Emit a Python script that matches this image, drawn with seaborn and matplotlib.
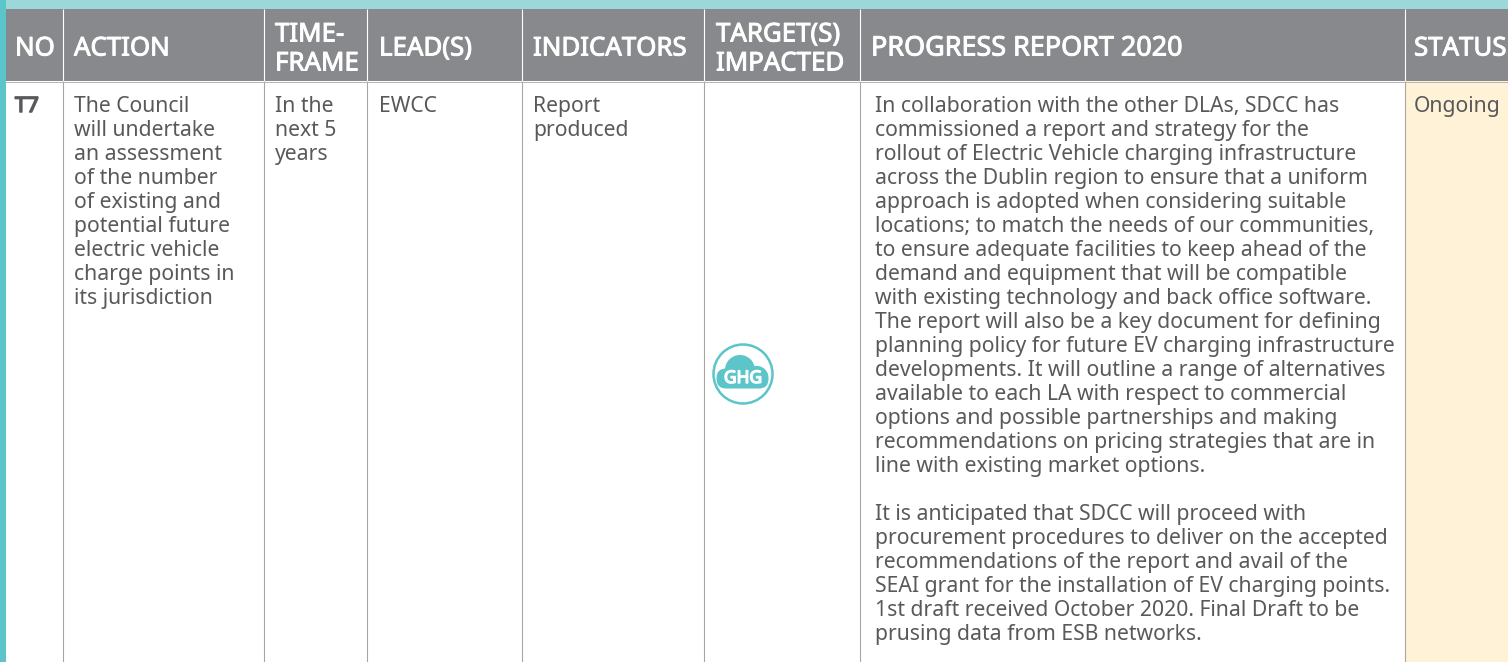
import matplotlib
matplotlib.use("Agg")
import matplotlib.pyplot as plt
import matplotlib.patheffects as pe
from matplotlib.patches import Circle, FancyBboxPatch, Rectangle
import seaborn as sns

headers = ["NO", "ACTION", "TIME-\nFRAME", "LEAD(S)", "INDICATORS", "TARGET(S)\nIMPACTED", "PROGRESS REPORT 2020", "STATUS"]
no_col = ["T7"]
action_col = ["The Council", "will undertake", "an assessment", "of the number", "of existing and",
              "potential future", "electric vehicle", "charge points in", "its jurisdiction"]
timeframe_col = ["In the", "next 5", "years"]
lead_col = ["EWCC"]
indicators_col = ["Report", "produced"]
target_icon = "GHG"
progress_col = [
    "In collaboration with the other DLAs, SDCC has",
    "commissioned a report and strategy for the",
    "rollout of Electric Vehicle charging infrastructure",
    "across the Dublin region to ensure that a uniform",
    "approach is adopted when considering suitable",
    "locations; to match the needs of our communities,",
    "to ensure adequate facilities to keep ahead of the",
    "demand and equipment that will be compatible",
    "with existing technology and back office software.",
    "The report will also be a key document for defining",
    "planning policy for future EV charging infrastructure",
    "developments. It will outline a range of alternatives",
    "available to each LA with respect to commercial",
    "options and possible partnerships and making",
    "recommendations on pricing strategies that are in",
    "line with existing market options.",
    "",
    "It is anticipated that SDCC will proceed with",
    "procurement procedures to deliver on the accepted",
    "recommendations of the report and avail of the",
    "SEAI grant for the installation of EV charging points.",
    "1st draft received October 2020. Final Draft to be",
    "prusing data from ESB networks.",
]
status_col = ["Ongoing"]

col_edges = [63, 263.5, 366.5, 521.5, 704, 859.5, 1405]
header_x = [15, 74, 275, 379, 533, 716, 871, 1414]
body_x = [15, 74, 275, 379, 533, 875, 1414]

TEAL, PALE, GREY, RULE, CREAM, INK = "#5bc5c9", "#9cd8da", "#88898c", "#aba5a2", "#fff2d7", "#58595b"

sns.set_theme(style="white")
plt.rcParams["font.family"] = ["Noto Sans", "DejaVu Sans"]
fig = plt.figure(figsize=(15.08, 6.62), dpi=100)
ax = fig.add_axes([0, 0, 1, 1])
ax.set_xlim(0, 1508)
ax.set_ylim(662, 0)
ax.axis("off")
sns.despine(ax=ax, left=True, bottom=True)

W, H = 1508, 662
ax.add_patch(Rectangle((0, 0), 6, H, fc=TEAL, lw=0))
ax.add_patch(Rectangle((6, 0), W, 9, fc=PALE, lw=0))
ax.add_patch(Rectangle((6, 9), W, 72, fc=GREY, lw=0))
ax.add_patch(Rectangle((col_edges[-1], 81), W, H, fc=CREAM, lw=0))
for x in col_edges:
    ax.plot([x, x], [9, 81], color="white", lw=0.8, solid_capstyle="butt")
    ax.plot([x, x], [81, H], color=RULE, lw=0.8, solid_capstyle="butt")
ax.plot([6, W], [81.5, 81.5], color="#b5b5b7", lw=0.7)

semi = [pe.withStroke(linewidth=0.7, foreground="white")]
for x, label in zip(header_x, headers):
    lines = label.split("\n")
    ys = [55.5] if len(lines) == 1 else [41.5, 70.5]
    size = 19.4 if label.startswith("PROGRESS") else 18.6
    for y, s in zip(ys, lines):
        ax.text(x, y, s, color="white", fontsize=size, va="baseline", ha="left", path_effects=semi)

LEAD = 24
BASE = 112
def column(x, lines, **kw):
    for i, s in enumerate(lines):
        if s:
            ax.text(x, BASE + LEAD * i, s, color=INK, fontsize=15.22, va="baseline", ha="left", **kw)

column(body_x[0], no_col, path_effects=[pe.withStroke(linewidth=1.1, foreground=INK)])
column(body_x[1], action_col)
column(body_x[2], timeframe_col)
column(body_x[3], lead_col)
column(body_x[4], indicators_col)
column(body_x[5], progress_col)
column(body_x[6], status_col)

# GHG icon
ax.add_patch(Circle((743, 374), 29.5, fc="white", ec=TEAL, lw=1.8))
ax.add_patch(Circle((740, 370), 15, fc=TEAL, lw=0))
ax.add_patch(Circle((757, 377), 11, fc=TEAL, lw=0))
ax.add_patch(FancyBboxPatch((726, 378), 33, 1, boxstyle="round,pad=9.5,rounding_size=9.5", fc=TEAL, lw=0))
ax.text(743, 378, target_icon, color="white", fontsize=12.5, ha="center", va="center",
        path_effects=[pe.withStroke(linewidth=1.0, foreground="white")])

fig.savefig("out.png", dpi=100)
